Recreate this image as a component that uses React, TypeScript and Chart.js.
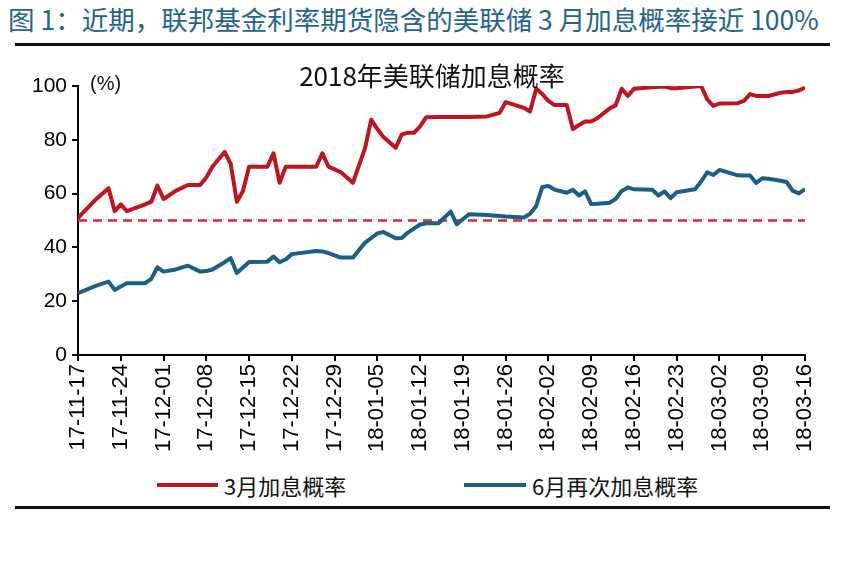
import React, { useEffect, useRef } from "react";
import { Chart, registerables } from "chart.js";

Chart.register(...registerables);

// Weekly x-axis tick labels (every 7 days from 2017-11-17)
const tickLabels = [
  "17-11-17", "17-11-24", "17-12-01", "17-12-08", "17-12-15", "17-12-22",
  "17-12-29", "18-01-05", "18-01-12", "18-01-19", "18-01-26", "18-02-02",
  "18-02-09", "18-02-16", "18-02-23", "18-03-02", "18-03-09", "18-03-16",
];

// Observation dates, as days since 2017-11-17
const dayOffsets = [
  0, 3, 5, 6, 7, 8, 11, 12, 13, 14, 16, 18, 20, 21, 22, 24, 25, 26, 27, 28,
  31, 32, 33, 34, 35, 39, 40, 41, 42, 43, 45, 47, 48, 49, 50, 52, 53, 54, 55, 56,
  57, 59, 61, 62, 64, 67, 69, 70, 73, 74, 75, 76, 77, 78, 80, 81, 82, 83, 84, 85,
  87, 88, 89, 90, 91, 94, 95, 96, 97, 98, 101, 102, 103, 104, 105, 108, 109, 110,
  111, 112, 113, 115, 116, 117, 118, 119,
];

// 3月加息概率 (%)
const marchHike = [
  51, 58, 62, 53.5, 56, 53.5,
  56, 57, 63, 58, 61, 63.2, 63.2,
  66, 70, 75.5, 71, 57, 61, 70,
  70, 75, 64, 70, 70,
  70, 75, 70, 69, 68,
  64, 77, 87.5, 84, 81,
  77, 82, 82.6, 82.6, 85, 88.4,
  88.5, 88.5, 88.5, 88.5,
  88.7, 90, 94,
  91.9, 90.5, 99, 97, 94.5, 92.9,
  92.9, 84, 85.5, 86.8, 86.8, 88,
  91.6, 92.8, 99, 96.3, 99,
  99.5, 99.7, 99.8, 99.2, 99.2,
  99.8, 100, 95, 92.6, 93.5,
  93.6, 94.5, 97, 96.3, 96.3,
  96.3, 97.5, 97.8, 97.8, 98.3, 99.4,
];

// 6月再次加息概率 (%)
const juneHike = [
  23, 25.8, 27.3, 24.2, 25.5, 26.7,
  26.7, 28.3, 32.6, 31, 31.8, 33.2, 31,
  31.2, 31.8, 34.5, 36, 30.5, 32.5, 34.6,
  34.7, 36.6, 34.5, 35.5, 37.5,
  38.7, 38.5, 37.9, 37, 36.2,
  36.2, 41.8, 43.5, 45.2, 45.7,
  43.4, 43.5, 45.5, 47, 48.5, 49,
  49, 53.3, 48.6, 52.3,
  52, 51.7, 51.5,
  51.1, 52.5, 55.4, 62.5, 62.8, 61.5,
  60.3, 61.4, 59.3, 60.8, 56.1, 56.2,
  56.6, 58, 61, 62.3, 61.6,
  61.4, 59.3, 60.8, 58.3, 60.5,
  61.6, 64.5, 67.9, 66.9, 68.8,
  66.8, 66.7, 66.7, 64, 65.7,
  65.5, 64.8, 64.3, 61, 60.1, 61.7,
];

const threshold = 50;
const seriesNames = ["3月加息概率", "6月再次加息概率"];
const yTicks = [0, 20, 40, 60, 80, 100];

const RED = "#c0141e";
const BLUE = "#1a5f8a";
const FONT = "'Liberation Sans', Arial, 'Noto Sans CJK SC', sans-serif";
const CJK = "'Noto Sans CJK SC', 'Liberation Sans', sans-serif";

export default function App() {
  const ref = useRef<HTMLCanvasElement>(null);

  useEffect(() => {
    const lastDay = (tickLabels.length - 1) * 7;
    const chart = new Chart(ref.current as HTMLCanvasElement, {
      type: "line",
      data: {
        datasets: [
          {
            label: seriesNames[0],
            data: dayOffsets.map((d, i) => ({ x: d, y: marchHike[i] })),
            borderColor: RED,
            backgroundColor: RED,
            borderWidth: 4,
            pointRadius: 0,
            tension: 0,
            borderJoinStyle: "round",
          },
          {
            label: seriesNames[1],
            data: dayOffsets.map((d, i) => ({ x: d, y: juneHike[i] })),
            borderColor: BLUE,
            backgroundColor: BLUE,
            borderWidth: 4,
            pointRadius: 0,
            tension: 0,
            borderJoinStyle: "round",
          },
          {
            label: "50%",
            data: [
              { x: 0, y: threshold },
              { x: lastDay + 1, y: threshold },
            ],
            borderColor: "#e0262c",
            borderWidth: 2.5,
            borderDash: [9, 6],
            pointRadius: 0,
          },
        ],
      },
      options: {
        animation: false,
        responsive: false,
        layout: { padding: { top: 41, left: 0, right: 53, bottom: 0 } },
        plugins: {
          legend: { display: false },
          title: { display: false },
          tooltip: { enabled: false },
        },
        scales: {
          x: {
            type: "linear",
            min: 0,
            max: lastDay,
            afterFit: (s: any) => {
              s.height = 110;
            },
            afterBuildTicks: (s: any) => {
              s.ticks = tickLabels.map((_, i) => ({ value: i * 7 }));
            },
            ticks: {
              autoSkip: false,
              maxRotation: 90,
              minRotation: 90,
              padding: 3,
              color: "#000",
              font: { family: FONT, size: 22 },
              callback: (v: any) => tickLabels[Math.round(Number(v) / 7)] ?? "",
            },
            grid: {
              drawOnChartArea: false,
              drawTicks: true,
              tickLength: 6,
              color: "#000",
              lineWidth: 2,
            },
            border: { color: "#000", width: 2 },
          },
          y: {
            min: 0,
            max: 100,
            afterFit: (s: any) => {
              s.width = 78;
            },
            afterBuildTicks: (s: any) => {
              s.ticks = yTicks.map((v) => ({ value: v }));
            },
            ticks: {
              padding: 5,
              color: "#000",
              font: { family: FONT, size: 21 },
            },
            grid: {
              drawOnChartArea: false,
              drawTicks: true,
              tickLength: 6,
              color: "#000",
              lineWidth: 2,
            },
            border: { color: "#000", width: 2 },
          },
        },
      },
    });
    return () => chart.destroy();
  }, []);

  return (
    <div
      style={{
        position: "absolute",
        left: 0,
        top: 0,
        width: 858,
        height: 573,
        background: "#fff",
        overflow: "hidden",
      }}
    >
      <div
        style={{
          position: "absolute",
          left: 8,
          top: 4,
          fontFamily: CJK,
          fontSize: 26.5,
          lineHeight: "30px",
          color: "#23648f",
          whiteSpace: "nowrap",
        }}
      >
        图 1：近期，联邦基金利率期货隐含的美联储 3 月加息概率接近 100%
      </div>
      <div
        style={{
          position: "absolute",
          left: 15,
          top: 43,
          width: 815,
          height: 3,
          background: "#111",
        }}
      />
      <canvas
        ref={ref}
        width={858}
        height={420}
        style={{ position: "absolute", left: 0, top: 45, width: 858, height: 420 }}
      />
      <div
        style={{
          position: "absolute",
          left: 432,
          top: 60,
          transform: "translateX(-50%)",
          fontFamily: CJK,
          fontSize: 26,
          lineHeight: "30px",
          color: "#111",
          whiteSpace: "nowrap",
        }}
      >
        2018年美联储加息概率
      </div>
      <div
        style={{
          position: "absolute",
          left: 90,
          top: 71,
          fontFamily: FONT,
          fontSize: 20,
          lineHeight: "24px",
          color: "#111",
        }}
      >
        (%)
      </div>
      <div style={{ position: "absolute", left: 157, top: 483, width: 61, height: 4, background: RED }} />
      <div
        style={{
          position: "absolute",
          left: 224,
          top: 471,
          fontFamily: CJK,
          fontSize: 22,
          lineHeight: "28px",
          color: "#111",
          whiteSpace: "nowrap",
        }}
      >
        {seriesNames[0]}
      </div>
      <div style={{ position: "absolute", left: 464, top: 483, width: 62, height: 4, background: BLUE }} />
      <div
        style={{
          position: "absolute",
          left: 532,
          top: 471,
          fontFamily: CJK,
          fontSize: 22,
          lineHeight: "28px",
          color: "#111",
          whiteSpace: "nowrap",
        }}
      >
        {seriesNames[1]}
      </div>
      <div
        style={{
          position: "absolute",
          left: 15,
          top: 506,
          width: 815,
          height: 3,
          background: "#111",
        }}
      />
    </div>
  );
}
